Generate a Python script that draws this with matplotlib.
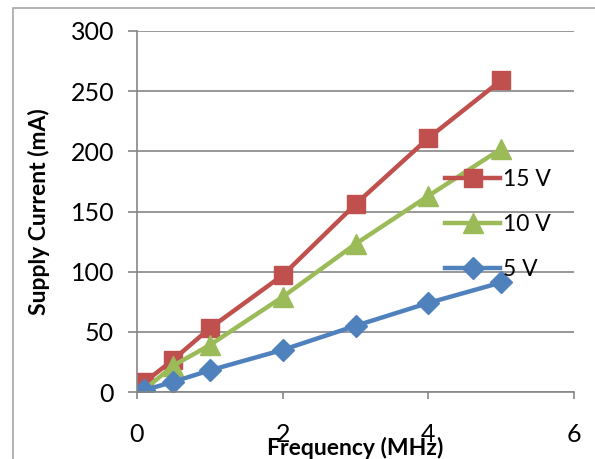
import matplotlib.pyplot as plt
from matplotlib.patches import Rectangle

plt.rcParams['font.family'] = ['Lato', 'DejaVu Sans']

# 데이터
freq = [0.1, 0.5, 1, 2, 3, 4, 5]
i_15v = [8, 27, 53, 97, 156, 211, 259]
i_10v = [2, 22, 39, 79, 123, 163, 202]
i_5v = [1.5, 8.5, 18, 35, 55, 74, 91]

fig = plt.figure(figsize=(5.95, 4.59), dpi=100)
ax = fig.add_axes([137/595, 1 - 392/459, 437/595, 361/459])

# 차트 테두리
fig.patches.append(Rectangle((13/595, -0.1), 1.2, 1 - 8/459 + 0.1, transform=fig.transFigure,
                             fill=False, edgecolor='#a6a6a6', linewidth=1.2))

ax.plot(freq, i_15v, color='#C0504D', linewidth=3.2, marker='s', markersize=13, label='15 V')
ax.plot(freq, i_10v, color='#9BBB59', linewidth=3.2, marker='^', markersize=14, label='10 V')
ax.plot(freq, i_5v, color='#4F81BD', linewidth=3.2, marker='D', markersize=11, label='5 V')

ax.set_xlim(0, 6)
ax.set_ylim(0, 300)
ax.set_xticks([0, 2, 4, 6])
ax.set_yticks(range(0, 301, 50))

ax.grid(axis='y', color='#868686', linewidth=1.2)
ax.set_axisbelow(True)
for s in ['top', 'right']:
    ax.spines[s].set_visible(False)
for s in ['left', 'bottom']:
    ax.spines[s].set_color('#868686')
    ax.spines[s].set_linewidth(1.2)

ax.tick_params(axis='y', length=6.5, width=1.2, color='#868686', pad=10, labelsize=18)
ax.tick_params(axis='x', length=5, width=1.2, color='#868686', pad=17, labelsize=18)

ax.set_ylabel('Supply Current (mA)', fontsize=16.5, fontweight='bold')
ax.yaxis.set_label_coords(-0.199, 0.5)
ax.set_xlabel('Frequency (MHz)', fontsize=16.5, fontweight='bold')
ax.xaxis.set_label_coords(0.499, -0.125)

ax.legend(loc='upper left', bbox_to_anchor=(445/595, 1 - 169/459), bbox_transform=fig.transFigure,
          frameon=False, fontsize=16.5, handlelength=2.4, handletextpad=0.15, labelspacing=1.05,
          borderaxespad=0, borderpad=0)

plt.savefig('out.png', dpi=100)
